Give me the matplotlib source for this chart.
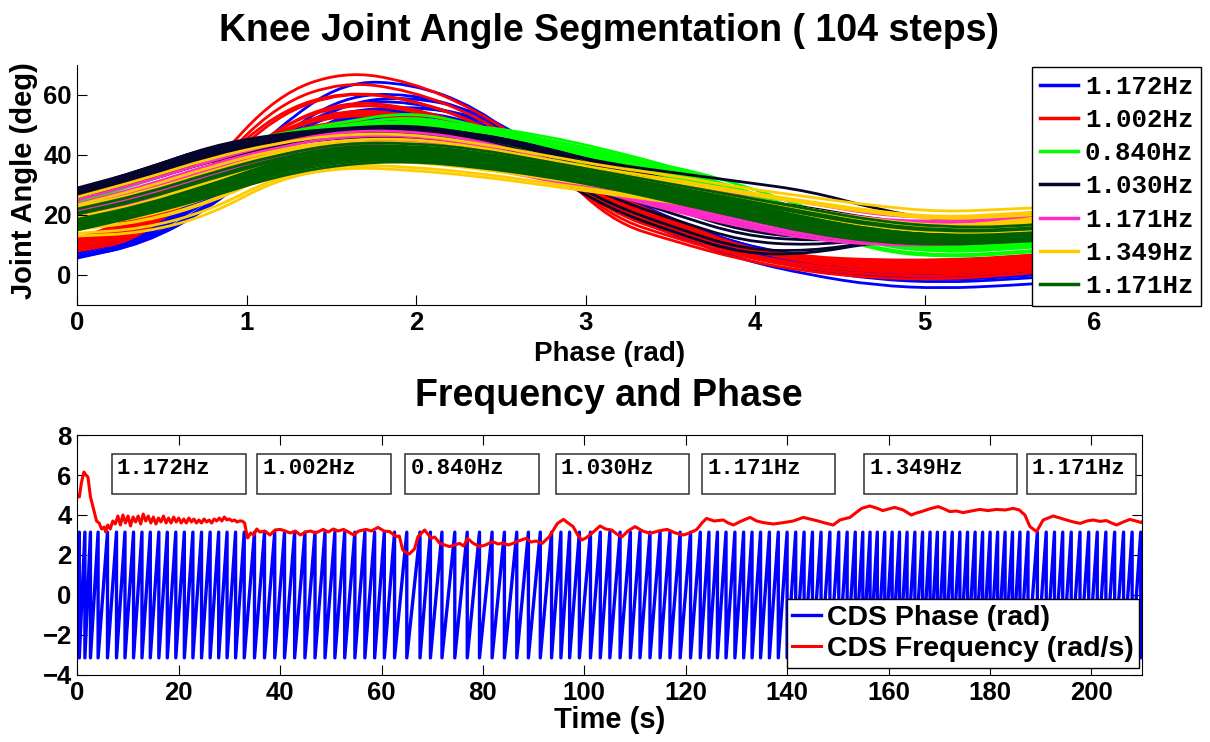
import numpy as np
import matplotlib
matplotlib.use('Agg')
import matplotlib.pyplot as plt
from matplotlib.patches import Rectangle, PathPatch
from matplotlib.path import Path
from matplotlib.lines import Line2D

plt.rcParams['font.family'] = ['Liberation Sans', 'DejaVu Sans']
plt.rcParams['font.weight'] = 'bold'
plt.rcParams['axes.labelweight'] = 'bold'

# ---------------- knee angle data (7 segments, 104 steps) ----------------
phase_knots = np.arange(17) * np.pi / 8

seg_labels = ['1.172Hz', '1.002Hz', '0.840Hz', '1.030Hz', '1.171Hz', '1.349Hz', '1.171Hz']
seg_colors = ['#0000ff', '#ff0000', '#00ff00', '#05052e', '#ff2bc8', '#ffcc00', '#006000']

# three member shapes per segment (deg); each step mixes them with (w_b, w_c)
blue_a = [6, 12, 27, 49, 64.5, 64, 56, 39, 22, 13, 5, 0, -3.5, -4.5, -3.5, -2, 0]
blue_b = [11, 18, 30, 42, 48, 48, 43, 35, 26, 17, 10, 6, 3, 2, 3, 5, 7]
blue_c = [5, 9, 21, 40, 54, 58, 55, 44, 29, 18, 10, 4, 1, 0, 1, 3, 5]
blue_wb = [0.0, 0.1, 0.05, 0.3, 0.2, 0.5, 0.45, 0.7, 0.6, 0.85, 0.9, 1.0, 0.35, 0.15, 0.75, 0.55]
blue_wc = [0.0, 0.3, 0.6, 0.2, 0.7, 0.1, 0.45, 0.2, 0.35, 0.1, 0.0, 0.0, 0.55, 0.85, 0.25, 0.4]

red_a = [8, 12, 36, 60, 68, 64.5, 55, 40, 18, 11, 5, 1, -1, -1.5, 0, 2, 4]
red_b = [12, 20, 34, 45, 49, 48, 44, 36, 27, 18, 9, 6, 5, 5, 6, 8, 10]
red_c = [10, 14, 29, 49, 58, 56, 49, 37, 22, 14, 9, 4, 2, 1, 2, 4, 7]
red_wb = [0.0, 0.1, 0.3, 0.55, 0.8, 1.0, 0.2, 0.45, 0.65, 0.9, 0.05, 0.35, 0.7, 0.15]
red_wc = [0.0, 0.15, 0.1, 0.3, 0.1, 0.0, 0.7, 0.5, 0.2, 0.05, 0.9, 0.6, 0.3, 0.4]

green_a = [28, 35, 42, 47, 51, 54.5, 50, 44, 40, 36, 30, 22, 15, 13, 14, 16, 20]
green_b = [24, 31, 38, 44, 47, 49, 46, 40, 35, 30, 24, 16, 8, 6, 7, 9, 12]
green_c = [26, 34, 42, 47, 49, 51, 50, 47, 42, 36, 28, 20, 12, 9, 10, 12, 16]
green_wb = [0.0, 0.2, 0.45, 0.7, 1.0, 0.1, 0.35, 0.6, 0.85, 0.25, 0.5, 0.05]
green_wc = [0.0, 0.1, 0.2, 0.1, 0.0, 0.6, 0.5, 0.3, 0.15, 0.75, 0.45, 0.9]

navy_a = [29, 35, 43, 47, 49, 50, 47, 42, 37, 34, 31, 28, 22, 18, 20, 22, 25]
navy_b = [26, 31, 38, 43, 46, 46, 42, 35, 22, 14, 7, 7, 11, 12, 14, 16, 19]
navy_c = [28, 36, 43, 46, 47, 49, 48, 44, 38, 30, 22, 16, 13, 14, 16, 18, 21]
navy_wb = [0.0, 0.15, 0.4, 0.65, 0.9, 1.0, 0.1, 0.3, 0.55, 0.2, 0.75, 0.05, 0.45]
navy_wc = [0.0, 0.2, 0.1, 0.25, 0.1, 0.0, 0.7, 0.55, 0.35, 0.8, 0.2, 0.45, 0.5]

mag_a = [25, 31, 38, 44, 48, 48, 45, 39, 33, 30, 27, 24, 20, 19, 20, 22, 24]
mag_b = [18, 22, 30, 36, 38, 38, 36, 32, 27, 21, 16, 12, 10, 10, 11, 13, 16]
mag_c = [20, 28, 36, 40, 43, 45, 43, 38, 31, 26, 22, 18, 16, 18, 20, 22, 24]
mag_wb = [0.0, 0.12, 0.3, 0.5, 0.7, 0.9, 1.0, 0.2, 0.4, 0.6, 0.8, 0.05, 0.25, 0.45, 0.15]
mag_wc = [0.0, 0.1, 0.25, 0.1, 0.2, 0.05, 0.0, 0.6, 0.45, 0.3, 0.15, 0.85, 0.7, 0.5, 0.35]

yel_a = [26, 32, 39, 44, 47, 47, 44, 40, 36, 33, 29, 26, 23, 21, 22, 23, 25]
yel_b = [13, 14, 20, 32, 36, 35, 33, 30, 27, 24, 21, 17, 13, 11, 12, 13, 15]
yel_c = [18, 24, 32, 38, 42, 44, 42, 38, 34, 30, 26, 22, 18, 16, 18, 21, 24]
yel_wb = [0.0, 0.08, 0.2, 0.32, 0.45, 0.6, 0.75, 0.9, 1.0, 0.15, 0.3, 0.5, 0.65, 0.05, 0.25, 0.4, 0.55]
yel_wc = [0.0, 0.2, 0.1, 0.3, 0.15, 0.25, 0.1, 0.05, 0.0, 0.7, 0.55, 0.4, 0.3, 0.9, 0.65, 0.5, 0.2]

dkg_a = [22, 27, 34, 40, 44, 44, 42, 38, 34, 30, 26, 22, 18, 16, 16, 18, 20]
dkg_b = [15, 20, 26, 33, 37, 38, 36, 33, 29, 24, 19, 14, 11, 10, 11, 12, 14]
dkg_c = [18, 22, 30, 38, 42, 42, 40, 36, 32, 28, 24, 19, 15, 13, 13, 15, 17]
dkg_wb = [0.0, 0.1, 0.22, 0.35, 0.48, 0.6, 0.72, 0.85, 1.0, 0.12, 0.28, 0.42, 0.55, 0.05, 0.2, 0.38, 0.65]
dkg_wc = [0.0, 0.15, 0.05, 0.25, 0.1, 0.3, 0.15, 0.1, 0.0, 0.75, 0.6, 0.45, 0.35, 0.9, 0.7, 0.5, 0.25]

seg_a = [blue_a, red_a, green_a, navy_a, mag_a, yel_a, dkg_a]
seg_b = [blue_b, red_b, green_b, navy_b, mag_b, yel_b, dkg_b]
seg_c = [blue_c, red_c, green_c, navy_c, mag_c, yel_c, dkg_c]
seg_wb = [blue_wb, red_wb, green_wb, navy_wb, mag_wb, yel_wb, dkg_wb]
seg_wc = [blue_wc, red_wc, green_wc, navy_wc, mag_wc, yel_wc, dkg_wc]

# ---------------- CDS frequency (rad/s) ----------------
freq_t = [0, 0.4, 0.8, 1.3, 1.7, 2.1, 2.6, 3.2, 3.8, 4.3, 4.8, 5.3, 5.6, 6.0, 6.5, 7.0,
          7.5, 8.0, 8.5, 9.0, 9.5, 10.0, 10.5, 11.0, 11.5, 12.0, 12.5, 13.0, 13.5, 14.0,
          14.5, 15.0, 15.5, 16.0, 16.5, 17.0, 17.5, 18.0, 18.5, 19.0, 19.5, 20.0, 20.5,
          21.0, 21.5, 22.0, 22.5, 23.0, 23.5, 24.0, 24.5, 25.0, 25.5, 26.0, 26.5, 27.0,
          27.5, 28.0, 28.5, 29.0, 29.5, 30.0, 30.5, 31.0, 31.5, 32.0, 32.5, 33.0, 33.3,
          33.6, 34.2, 34.8, 35.4, 36, 37, 38, 39, 40, 41, 42, 43, 44, 45, 46, 47, 48.5,
          49.5, 50.5, 51.5, 52.5, 53.5, 54.5, 55.5, 57, 58, 59.3, 60.5, 61.6, 62.9, 63.5,
          64.2, 65.0, 65.5, 66.5, 67.2, 68.5, 69.8, 70.5, 71.5, 72.5, 73.4, 74.4, 75.4,
          76.2, 77, 78, 79.3, 80.5, 81.9, 83, 84, 85, 85.9, 87, 88.5, 89.5, 90.5, 91.7,
          93.1, 94.7, 95.9, 96.8, 97.8, 98.7, 99.5, 100.3, 101.1, 102, 103.1, 104.2, 105.4,
          106.4, 107.4, 108.6, 110, 111.5, 113, 114.6, 116.3, 118, 119.5, 120.8, 122.2,
          123.2, 124.1, 125.6, 127.4, 128.4, 129.4, 131, 132.7, 134, 135.3, 137.3, 139.3,
          141.2, 143.2, 144.5, 145.8, 147.5, 149.1, 150.4, 152.4, 153.5, 154.7, 156.3,
          157.6, 158.9, 160, 161.2, 162.9, 164.5, 165.5, 166.5, 168, 169.8, 171, 172.1,
          173.4, 174.7, 176.3, 178, 179.6, 181.3, 183, 184.6, 185.8, 186.9, 187.9, 189.2,
          190.5, 192.5, 193.8, 195.1, 196.5, 197.8, 199.1, 200.4, 201.7, 203, 204, 205,
          206.3, 207.6, 208.8, 209.9, 210]
freq_val = [5.0, 4.9, 5.6, 6.15, 6.0, 5.9, 4.9, 4.3, 3.7, 3.6, 3.3, 3.4, 3.15, 3.5, 3.3, 3.7,
            3.55, 3.95, 3.5, 4.0, 3.6, 3.95, 3.45, 3.9, 3.65, 3.95, 3.55, 4.05, 3.7, 3.95,
            3.6, 3.9, 3.55, 3.85, 3.65, 3.95, 3.6, 3.85, 3.6, 3.9, 3.65, 3.85, 3.6,
            3.8, 3.6, 3.85, 3.65, 3.8, 3.6, 3.75, 3.6, 3.8, 3.65, 3.75, 3.6, 3.8,
            3.7, 3.85, 3.7, 3.9, 3.75, 3.8, 3.7, 3.75, 3.65, 3.7, 3.7, 3.6, 3.2,
            2.85, 3.1, 3.0, 3.3, 3.15, 3.2, 3.0, 3.25, 3.28, 3.2, 3.1, 3.2, 3.0, 3.15, 3.2, 3.1, 3.28,
            3.15, 3.3, 3.2, 3.28, 3.15, 3.0, 3.2, 3.28, 3.2, 3.38, 3.2, 3.17, 2.92, 2.95,
            2.25, 2.1, 2.05, 2.3, 2.92, 3.25, 2.83, 2.9, 2.58, 2.5, 2.42, 2.5, 2.58,
            2.45, 2.83, 2.6, 2.42, 2.5, 2.67, 2.55, 2.6, 2.5, 2.58, 2.7, 2.83, 2.65, 2.7, 2.58,
            2.92, 3.58, 3.78, 3.6, 3.42, 3.0, 2.75, 2.85, 3.0, 3.2, 3.45, 3.3, 3.25,
            3.05, 2.9, 3.2, 3.42, 3.2, 3.08, 3.2, 3.28, 3.1, 3.0, 3.1, 3.28,
            3.6, 3.83, 3.7, 3.75, 3.6, 3.5, 3.7, 3.88, 3.7, 3.62, 3.55, 3.62,
            3.7, 3.88, 3.8, 3.72, 3.6, 3.5, 3.75, 3.88, 4.1, 4.33, 4.45,
            4.35, 4.22, 4.3, 4.38, 4.25, 4.0, 4.1, 4.17, 4.3, 4.42, 4.3, 4.17,
            4.2, 4.12, 4.2, 4.28, 4.22, 4.28, 4.25, 4.33, 4.25, 4.0, 3.42, 3.17,
            3.75, 3.95, 3.85, 3.75, 3.65, 3.58, 3.7, 3.75, 3.68, 3.72, 3.6, 3.5,
            3.65, 3.78, 3.7, 3.62, 3.65]
phase0 = 1.2   # CDS phase at t = 0 (rad)

# segment annotation boxes (s) and their labels
box_left = [6.8, 35.5, 64.7, 94.4, 123.3, 155.2, 187.3]
box_right = [33.3, 61.8, 91.0, 120.7, 149.5, 185.3, 208.8]
box_labels = ['1.172Hz', '1.002Hz', '0.840Hz', '1.030Hz', '1.171Hz', '1.349Hz', '1.171Hz']

# CDS phase = running integral of the frequency, wrapped to [-pi, pi]
ft = np.array(freq_t, dtype=float)
fv = np.array(freq_val, dtype=float)
cum = phase0 + np.concatenate([[0.0], np.cumsum(0.5 * (fv[1:] + fv[:-1]) * np.diff(ft))])
targets = np.arange(np.pi, cum[-1], 2 * np.pi)
wrap_t = np.interp(targets, cum, ft)
ph_t = [ft[0]]
ph_v = [phase0]
for w in wrap_t:
    ph_t += [w, w]
    ph_v += [np.pi, -np.pi]
ph_t.append(ft[-1])
ph_v.append((cum[-1] + np.pi) % (2 * np.pi) - np.pi)


def smooth_path(x, y):
    # quadratic bezier through the knot midpoints, drawn by matplotlib itself
    pts = np.column_stack([x, y])
    mids = 0.5 * (pts[1:] + pts[:-1])
    verts = [pts[0], mids[0]]
    codes = [Path.MOVETO, Path.LINETO]
    for i in range(1, len(pts) - 1):
        verts += [pts[i], mids[i]]
        codes += [Path.CURVE3, Path.CURVE3]
    verts.append(pts[-1])
    codes.append(Path.LINETO)
    return Path(verts, codes)


# ---------------- figure ----------------
fig = plt.figure(figsize=(12.1, 7.42), dpi=100)
W, H = 1210.0, 742.0
ax1 = fig.add_axes([77.3 / W, 1 - 305 / H, 1064.7 / W, 240 / H])
ax2 = fig.add_axes([77.3 / W, 1 - 675 / H, 1064.7 / W, 240 / H])

handles = []
for lab, col, a, b, c, wbs, wcs in zip(seg_labels, seg_colors, seg_a, seg_b, seg_c, seg_wb, seg_wc):
    a = np.array(a, dtype=float)
    b = np.array(b, dtype=float)
    c = np.array(c, dtype=float)
    for wb, wc in zip(wbs, wcs):
        y = a + wb * (b - a) + wc * (c - a)
        ax1.add_patch(PathPatch(smooth_path(phase_knots, y), facecolor='none',
                                edgecolor=col, lw=2.0, capstyle='round', joinstyle='round'))
    handles.append(Line2D([], [], color=col, lw=2.5, label=lab))

ax1.set_xlim(0, 2 * np.pi)
ax1.set_ylim(-10, 70)
ax1.set_xticks(range(0, 7))
ax1.set_yticks([0, 20, 40, 60])
ax1.spines['top'].set_visible(False)
ax1.spines['right'].set_visible(False)
ax1.tick_params(direction='in', length=7, width=0.8, labelsize=18.5, pad=4)
ax1.set_xlabel('Phase (rad)', fontsize=20)
ax1.set_ylabel('Joint Angle (deg)', fontsize=21)
ax1.xaxis.set_label_coords(0.5, -0.15)
ax1.yaxis.set_label_coords(-0.037, 0.52)
leg1 = ax1.legend(handles=handles, loc='upper right', bbox_to_anchor=(1201 / W, 1 - 67 / H),
                  bbox_transform=fig.transFigure, borderaxespad=0,
                  prop={'family': 'Liberation Mono', 'weight': 'bold', 'size': 18.5},
                  handlelength=1.5, handletextpad=0.25, labelspacing=0.36,
                  borderpad=0.3, fancybox=False, framealpha=1, edgecolor='black')
leg1.get_frame().set_linewidth(1.0)

# bottom panel
ax2.plot(ph_t, ph_v, color='#0000ff', lw=2.4, label='CDS Phase (rad)')
ax2.plot(ft, fv, color='#ff0000', lw=2.2, label='CDS Frequency (rad/s)')
for xl, xr, lab in zip(box_left, box_right, box_labels):
    ax2.add_patch(Rectangle((xl, 5.03), xr - xl, 2.02, facecolor='white',
                            edgecolor='#303030', lw=1.1, zorder=4))
    ax2.text(xl + 1.0, 6.35, lab, ha='left', va='center', zorder=5,
             family='Liberation Mono', fontweight='bold', fontsize=16)
ax2.set_xlim(0, 210)
ax2.set_ylim(-4, 8)
ax2.set_xticks(range(0, 201, 20))
ax2.set_yticks(range(-4, 9, 2))
ax2.tick_params(direction='in', length=7, width=0.8, labelsize=18.5, pad=4,
                top=True, right=True)
ax2.set_xlabel('Time (s)', fontsize=21)
ax2.xaxis.set_label_coords(0.5, -0.13)
leg2 = ax2.legend(loc='lower right', bbox_to_anchor=(1139 / W, 1 - 668 / H),
                  bbox_transform=fig.transFigure, borderaxespad=0,
                  prop={'weight': 'bold', 'size': 20.5},
                  handlelength=1.0, handletextpad=0.2, labelspacing=0.2,
                  borderpad=0.2, fancybox=False, framealpha=1, edgecolor='black')
leg2.get_frame().set_linewidth(1.0)
leg2.set_zorder(6)

fig.text(609 / W, 1 - 40.7 / H, 'Knee Joint Angle Segmentation ( 104 steps)',
         ha='center', va='baseline', fontsize=27, fontweight='bold')
fig.text(609 / W, 1 - 406 / H, 'Frequency and Phase',
         ha='center', va='baseline', fontsize=27, fontweight='bold')

fig.savefig('out.png', dpi=100)
